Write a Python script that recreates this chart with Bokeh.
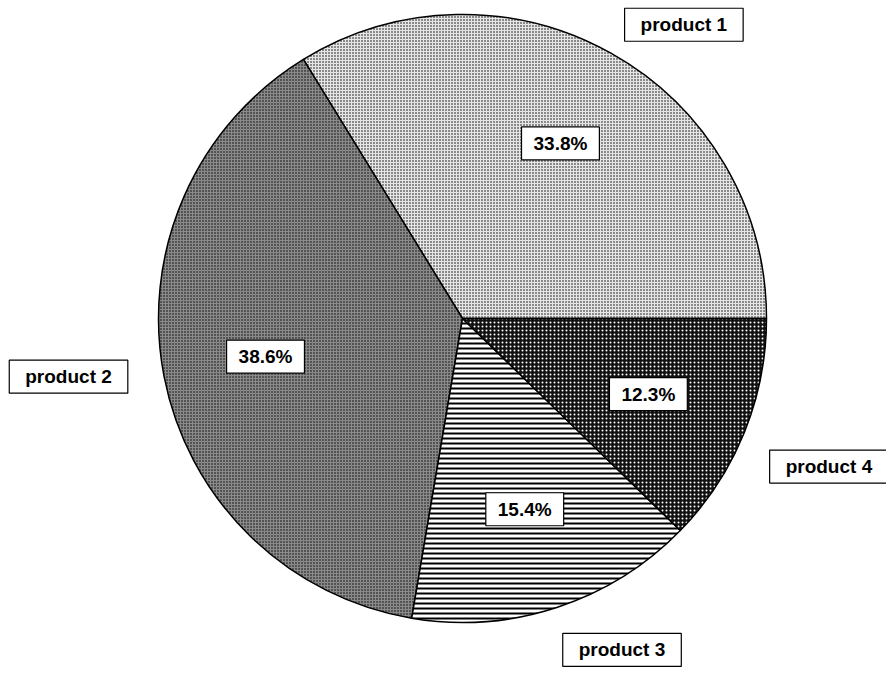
import numpy as np
from bokeh.plotting import figure
from bokeh.models import ColumnDataSource, Range1d
from bokeh.core.properties import value
from bokeh.embed import file_html
from bokeh.resources import INLINE

# ---- data ----
products = ["product 1", "product 2", "product 3", "product 4"]
shares = [33.8, 38.6, 15.4, 12.3]

# ---- styles ----
fill_colors = ["#e6e6e6", "#8a8a8a", "white", "#111111"]
hatch_patterns = ["dot", "dot", "horizontal_line", "dot"]
hatch_colors = ["black", "black", "black", "white"]
hatch_scales = [3, 3, 5, 4]
hatch_weights = [1, 1.5, 2, 0.8]

# outer label placement (angle in degrees, distance as multiple of radius)
label_angle_deg = [53, 188.4, 295.7, 338]
label_dist = [1.21, 1.31, 1.21, 1.30]

W, H = 886, 673
cx, cy, R = 462, H - 318, 304

total = sum(shares)
ang = np.concatenate([[0], np.cumsum(shares)]) / total * 2 * np.pi
start, end = ang[:-1], ang[1:]
mid = (start + end) / 2

src = ColumnDataSource(dict(
    x=[cx] * 4, y=[cy] * 4, start=start, end=end,
    fill=fill_colors, hp=hatch_patterns, hc=hatch_colors,
    hs=hatch_scales, hw=hatch_weights,
))

p = figure(width=W, height=H, x_range=Range1d(0, W), y_range=Range1d(0, H),
           output_backend="svg", toolbar_location=None, min_border=0,
           x_axis_location=None, y_axis_location=None)
p.grid.visible = False
p.outline_line_color = None
p.background_fill_color = "white"
p.border_fill_color = "white"

p.wedge(x="x", y="y", radius=R, start_angle="start", end_angle="end",
        direction="anticlock", source=src,
        fill_color="fill", hatch_pattern="hp", hatch_color="hc",
        hatch_scale="hs", hatch_weight="hw",
        line_color="black", line_width=1.5)

# percentage labels inside slices
pct_src = ColumnDataSource(dict(
    x=cx + 0.66 * R * np.cos(mid),
    y=cy + 0.66 * R * np.sin(mid),
    t=[f"{v:.1f}%" for v in shares],
))
p.text(x="x", y="y", text="t", source=pct_src,
       text_align="center", text_baseline="middle",
       text_font=value("Liberation Sans"), text_font_style="bold",
       text_font_size="19px", text_color="black",
       background_fill_color="white", border_line_color="black",
       border_line_width=1.2,
       padding=dict(left=12, right=12, top=6, bottom=6))

# category labels outside
la = np.radians(label_angle_deg)
ld = np.array(label_dist)
cat_src = ColumnDataSource(dict(
    x=cx + ld * R * np.cos(la),
    y=cy + ld * R * np.sin(la),
    t=products,
))
p.text(x="x", y="y", text="t", source=cat_src,
       text_align="center", text_baseline="middle",
       text_font=value("Liberation Sans"), text_font_style="bold",
       text_font_size="19px", text_color="black",
       background_fill_color="white", border_line_color="black",
       border_line_width=1.2,
       padding=dict(left=16, right=16, top=6, bottom=6))

open("out.html", "w").write(file_html(p, INLINE))
